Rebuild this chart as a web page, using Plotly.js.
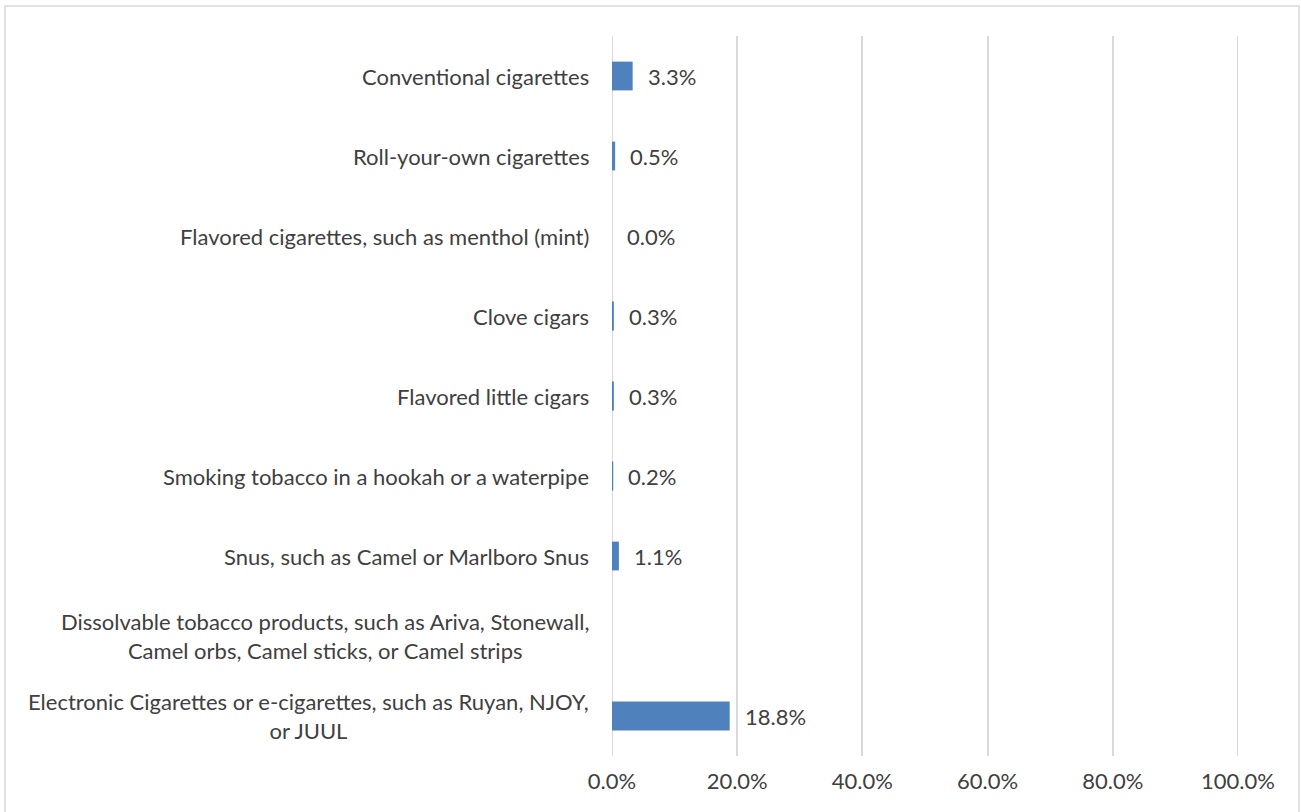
<!DOCTYPE html>
<html><head><meta charset="utf-8">
<script src="https://cdn.plot.ly/plotly-3.0.1.min.js"></script>
<style>html,body{margin:0;padding:0;background:#fff}#chart{width:1301px;height:812px}</style>
</head><body><div id="chart"></div>
<script>
const categories = [
  "Conventional cigarettes",
  "Roll-your-own cigarettes",
  "Flavored cigarettes, such as menthol (mint)",
  "Clove cigars",
  "Flavored little cigars",
  "Smoking tobacco in a hookah or a waterpipe",
  "Snus, such as Camel or Marlboro Snus",
  "Dissolvable tobacco products, such as Ariva, Stonewall,<br>Camel orbs, Camel sticks, or Camel strips",
  "Electronic Cigarettes or e-cigarettes, such as Ruyan, NJOY,<br>or JUUL"
];
const values = [3.3, 0.5, 0.0, 0.3, 0.3, 0.2, 1.1, null, 18.8];
const tickVals = [0, 20, 40, 60, 80, 100];
const tickText = ["0.0%", "20.0%", "40.0%", "60.0%", "80.0%", "100.0%"];

const font = {family: "Lato, 'Open Sans', sans-serif", size: 22, color: "#404040"};
const annotations = [];
categories.forEach((c, i) => {
  annotations.push({x: 0, y: c, xref: 'paper', yref: 'y', text: c, align: 'center',
    showarrow: false, xanchor: 'right', yanchor: 'middle', xshift: -21, font: font});
  if (values[i] === null) return;
  annotations.push({x: values[i], y: c, xref: 'x', yref: 'y', text: values[i].toFixed(1) + '%',
    showarrow: false, xanchor: 'left', yanchor: 'middle', xshift: 13, font: font});
});
const L = 612, R = 1238, T = 36, B = 756;
const pw = R - L, ph = B - T;
const shapes = [{type: 'rect', xref: 'paper', yref: 'paper',
    x0: (5 - L) / pw, x1: (1299 - L) / pw, y0: (B - 820) / ph, y1: (B - 6) / ph,
    line: {color: '#d9d9d9', width: 1.5}, fillcolor: 'rgba(0,0,0,0)', layer: 'below'}];
[tickVals[0], tickVals[tickVals.length - 1]].forEach(v => shapes.push({type: 'line', xref: 'x', yref: 'paper',
    x0: v, x1: v, y0: 0, y1: 1, line: {color: '#d9d9d9', width: 2}, layer: 'below'}));
Plotly.newPlot('chart', [{
  type: 'bar', orientation: 'h', x: values, y: categories,
  marker: {color: '#4f81bd'}, width: 0.36, hoverinfo: 'none'
}], {
  width: 1301, height: 812,
  margin: {l: L, r: 1301 - R, t: T, b: 812 - B, pad: 0},
  paper_bgcolor: '#fff', plot_bgcolor: '#fff',
  font: font, showlegend: false, bargap: 0.64,
  xaxis: {range: [0, 100], tickvals: tickVals, ticktext: tickText, showgrid: true,
    gridcolor: '#d9d9d9', gridwidth: 2, zeroline: false, showline: false,
    ticks: '', ticklabelstandoff: 10, fixedrange: true},
  yaxis: {autorange: 'reversed', showgrid: false, zeroline: false, showline: false,
    ticks: '', showticklabels: false, fixedrange: true},
  annotations: annotations,
  shapes: shapes
}, {staticPlot: true});
</script></body></html>
